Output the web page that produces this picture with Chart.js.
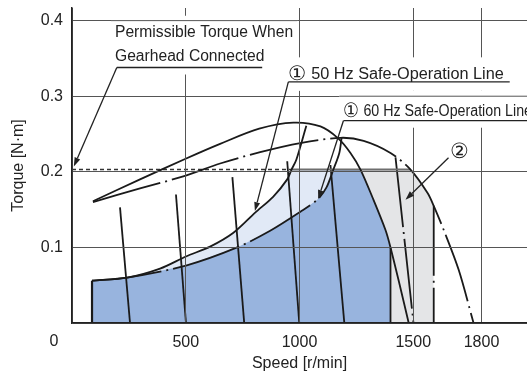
<!DOCTYPE html>
<html>
<head>
<meta charset="utf-8">
<script src="https://cdn.jsdelivr.net/npm/chart.js@4.4.0/dist/chart.umd.min.js"></script>
<style>
  body { margin: 0; background: #fff; }
  #grafico { display: block; }
</style>
</head>
<body>
<canvas id="grafico" width="527" height="373"></canvas>
<script>
// values: speed in r/min, torque in N·m
const speedTicks = [0, 500, 1000, 1500, 1800];
const torqueTicks = [0, 0.1, 0.2, 0.3, 0.4];

const arch50Speed = [92, 299, 497, 651, 823, 973, 1092, 1171, 1224, 1268, 1321, 1378, 1400, 1440, 1480];
const arch50Torque = [0.161, 0.190, 0.217, 0.237, 0.257, 0.265, 0.260, 0.244, 0.225, 0.203, 0.166, 0.123, 0.100, 0.051, 0];

const arch60Speed = [92, 299, 489, 651, 827, 1003, 1180, 1282, 1400, 1488, 1563, 1590, 1634, 1700, 1765];
const arch60Torque = [0.160, 0.178, 0.194, 0.211, 0.226, 0.238, 0.245, 0.241, 0.225, 0.203, 0.172, 0.155, 0.123, 0.070, 0];

const safe50Speed = [88, 242, 387, 501, 607, 708, 805, 884, 946, 965, 986, 1030];
const safe50Torque = [0.056, 0.060, 0.072, 0.088, 0.101, 0.119, 0.146, 0.167, 0.190, 0.203, 0.216, 0.261];

const safe60Speed = [88, 242, 501, 726, 871, 1003, 1078, 1118, 1149, 1175, 1185];
const safe60Torque = [0.056, 0.060, 0.076, 0.100, 0.122, 0.147, 0.163, 0.179, 0.203, 0.225, 0.245];

const speedLineTop = [211, 457, 705, 946, 1136, 1422];
const speedLineTopTorque = [0.153, 0.170, 0.193, 0.214, 0.209, 0.219];
const speedLineEnd = [255, 501, 757, 999, 1197, 1501];

const permissibleTorque = 0.203;
const minSpeed = 88;
const limit50 = 1400;
const limit60 = 1590;

const fontFamily = "'Liberation Sans', Arial, sans-serif";
const dashDot = [70, 5, 2, 5];

// text notes, placed in data units (span = where the first text line starts and ends)
const notes = [
  { text: ['Permissible Torque When', 'Gearhead Connected'], span: [189, 972], base: [0.378, 0.347],
    rule: [197, 836, 0.338], tip: [8, 0.207], pad: [10, 7] },
  { text: ['\u2460 50 Hz Safe-Operation Line'], span: [951, 1898], base: [0.323],
    rule: [951, 1924, 0.319], tip: [804, 0.148], pad: [10, 9] },
  { text: ['\u2460 60 Hz Safe-Operation Line'], span: [1193, 2022], base: [0.2733],
    rule: [1193, 2000, 0.2676], tip: [1082, 0.164], pad: [14, 7] }
];
const circle2 = { speed: 1704, torque: 0.2253, from: [1655, 0.2187], tip: [1466, 0.163] };

function pts(xs, ys) {
  return xs.map((x, i) => ({ x: x, y: ys[i] }));
}

function between(xs, ys, from, to) {
  return pts(xs, ys).filter(p => p.x >= from && p.x <= to);
}

function line(points, opts) {
  return Object.assign({
    data: points, showLine: true, pointRadius: 0, borderColor: '#1a1a1a',
    borderWidth: 1.8, fill: false, tension: 0
  }, opts);
}

function area(points, color) {
  return line(points, { borderWidth: 0, borderColor: 'rgba(0,0,0,0)', backgroundColor: color, fill: 'origin' });
}

const darkBlue = [{ x: minSpeed, y: 0 }].concat(
  between(safe60Speed, safe60Torque, minSpeed, 1149),
  between(arch50Speed, arch50Torque, 1268, limit50),
  [{ x: limit50, y: 0 }]);
const lightBlue = [{ x: minSpeed, y: 0 }].concat(
  between(safe50Speed, safe50Torque, minSpeed, 965),
  [{ x: 1149, y: permissibleTorque }, { x: 1149, y: 0 }]);
const grayArea = [{ x: 1149, y: 0 }, { x: 1149, y: permissibleTorque }].concat(
  between(arch60Speed, arch60Torque, 1488, limit60),
  [{ x: limit60, y: 0 }]);

const datasets = [
  line(pts(arch50Speed, arch50Torque), { tension: 0.3 }),
  line(pts(arch60Speed, arch60Torque), { tension: 0.3, borderDash: dashDot }),
  line(pts(safe50Speed, safe50Torque), { tension: 0.3 }),
  line(pts(safe60Speed, safe60Torque), { tension: 0.3, borderDash: dashDot }),
  line([{ x: 0, y: permissibleTorque }, { x: 965, y: permissibleTorque }], { borderDash: [4, 3], borderWidth: 1.6, borderColor: '#333' }),
  line([{ x: 965, y: permissibleTorque }, { x: 1488, y: permissibleTorque }], { borderWidth: 2, borderColor: '#6e6e6e' }),
  line([{ x: minSpeed, y: 0 }, { x: minSpeed, y: 0.056 }], { borderWidth: 2.2 }),
  line([{ x: limit50, y: 0 }, { x: limit50, y: 0.1 }]),
  line([{ x: limit60, y: 0.155 }, { x: limit60, y: 0 }], { borderDash: dashDot })
];

speedLineTop.forEach((x, i) => {
  const opts = i === speedLineTop.length - 1 ? { borderDash: dashDot } : {};
  datasets.push(line([{ x: x, y: speedLineTopTorque[i] }, { x: speedLineEnd[i], y: 0 }], opts));
});

datasets.push(area(darkBlue, '#98b4de'));
datasets.push(area(lightBlue, '#e1e9f6'));
datasets.push(area(grayArea, '#e4e5e7'));

function arrow(ctx, x1, y1, x2, y2) {
  const a = Math.atan2(y2 - y1, x2 - x1);
  const len = 9, w = 3;
  const bx = x2 - len * Math.cos(a), by = y2 - len * Math.sin(a);
  ctx.beginPath();
  ctx.moveTo(x1, y1);
  ctx.lineTo(bx, by);
  ctx.stroke();
  ctx.beginPath();
  ctx.moveTo(x2, y2);
  ctx.lineTo(bx - w * Math.sin(a), by + w * Math.cos(a));
  ctx.lineTo(bx + w * Math.sin(a), by - w * Math.cos(a));
  ctx.closePath();
  ctx.fill();
}

// circled digit is drawn a bit larger than the words after it
function noteWidth(ctx, text) {
  let w = 0;
  if (text.charAt(0) === '\u2460') {
    ctx.font = '20px ' + fontFamily;
    w = ctx.measureText('\u2460').width;
    text = text.slice(1);
  }
  ctx.font = '16px ' + fontFamily;
  return w + ctx.measureText(text).width;
}

function drawNote(ctx, text, x, y, k) {
  ctx.save();
  ctx.translate(x, y);
  ctx.scale(k, 1);
  let dx = 0;
  if (text.charAt(0) === '\u2460') {
    ctx.font = '20px ' + fontFamily;
    ctx.fillText('\u2460', 0, 1);
    dx = ctx.measureText('\u2460').width;
    text = text.slice(1);
  }
  ctx.font = '16px ' + fontFamily;
  ctx.fillText(text, dx, 0);
  ctx.restore();
}

const notesPlugin = {
  id: 'notes',
  afterDraw(chart) {
    const ctx = chart.ctx;
    const xs = chart.scales.x, ys = chart.scales.y;
    const area = chart.chartArea;
    const px = v => xs.getPixelForValue(v);
    const py = v => ys.getPixelForValue(v);
    ctx.save();

    notes.forEach(n => {
      n.k = (px(n.span[1]) - px(n.span[0])) / noteWidth(ctx, n.text[0]);
    });

    // white boxes behind the notes, then horizontal grid lines again
    notes.forEach(n => {
      const left = px(n.span[0]) - 4;
      let right = px(n.rule[1]) + 4;
      n.text.forEach(t => { right = Math.max(right, px(n.span[0]) + noteWidth(ctx, t) * n.k + 4); });
      right = Math.min(right, area.right);
      const top = py(n.base[0]) - 11.5 - n.pad[0];
      const bottom = py(n.rule[2]) + n.pad[1];
      ctx.fillStyle = '#fff';
      ctx.fillRect(left, top, right - left, bottom - top);
      ctx.strokeStyle = '#555';
      ctx.lineWidth = 1;
      torqueTicks.forEach(v => {
        const y = py(v);
        if (y > top && y < bottom) {
          ctx.beginPath();
          ctx.moveTo(left, y);
          ctx.lineTo(right, y);
          ctx.stroke();
        }
      });
    });

    ctx.fillStyle = '#222';
    ctx.strokeStyle = '#222';
    ctx.lineWidth = 1.3;
    ctx.textAlign = 'left';
    ctx.textBaseline = 'alphabetic';
    notes.forEach(n => {
      n.text.forEach((t, i) => drawNote(ctx, t, px(n.span[0]), py(n.base[i]), n.k));
      ctx.beginPath();
      ctx.moveTo(px(n.rule[0]), py(n.rule[2]));
      ctx.lineTo(px(n.rule[1]), py(n.rule[2]));
      ctx.stroke();
      arrow(ctx, px(n.rule[0]), py(n.rule[2]), px(n.tip[0]), py(n.tip[1]));
    });

    ctx.textAlign = 'center';
    ctx.textBaseline = 'middle';
    ctx.font = '21px ' + fontFamily;
    ctx.fillText('\u2461', px(circle2.speed), py(circle2.torque));
    arrow(ctx, px(circle2.from[0]), py(circle2.from[1]), px(circle2.tip[0]), py(circle2.tip[1]));

    // origin label sits in the corner, below and left of the axes
    ctx.font = '16px ' + fontFamily;
    ctx.fillText('0', xs.left - 18, xs.top + 19);
    ctx.restore();
  }
};

const tickFont = { family: fontFamily, size: 16 };

function noPadding(s) {
  s.paddingTop = 0;
  s.paddingBottom = 0;
  s.paddingLeft = 0;
  s.paddingRight = 0;
}

new Chart(document.getElementById('grafico').getContext('2d'), {
  type: 'scatter',
  data: { datasets: datasets },
  options: {
    responsive: false,
    devicePixelRatio: 1,
    animation: false,
    layout: { padding: { top: 8, right: 0, bottom: 0, left: 0 } },
    plugins: { legend: { display: false }, tooltip: { enabled: false } },
    scales: {
      x: {
        type: 'linear', min: 0, max: 2000,
        afterBuildTicks: s => { s.ticks = speedTicks.map(v => ({ value: v })); },
        afterFit: s => { s.height = 50; noPadding(s); },
        grid: { color: '#555', lineWidth: 1, drawTicks: false, z: 1 },
        border: { color: '#222', width: 1.5, z: 2 },
        ticks: { padding: 10, color: '#222', font: tickFont, maxRotation: 0, autoSkip: false,
          callback: v => v === 0 ? '' : String(v) },
        title: { display: true, text: 'Speed [r/min]', color: '#222', font: tickFont, padding: { top: 0, bottom: 0 } }
      },
      y: {
        type: 'linear', min: 0, max: 0.4167,
        afterBuildTicks: s => { s.ticks = torqueTicks.map(v => ({ value: v })); },
        afterFit: s => { s.width = 72; noPadding(s); },
        grid: { color: '#555', lineWidth: 1, drawTicks: false, z: 1 },
        border: { color: '#222', width: 1.5, z: 2 },
        ticks: { padding: 9, color: '#222', font: tickFont,
          callback: v => v === 0 ? '' : v.toFixed(1) },
        title: { display: true, text: 'Torque [N·m]', color: '#222', font: tickFont, padding: { top: 9, bottom: 0 } }
      }
    }
  },
  plugins: [notesPlugin]
});
</script>
</body>
</html>
